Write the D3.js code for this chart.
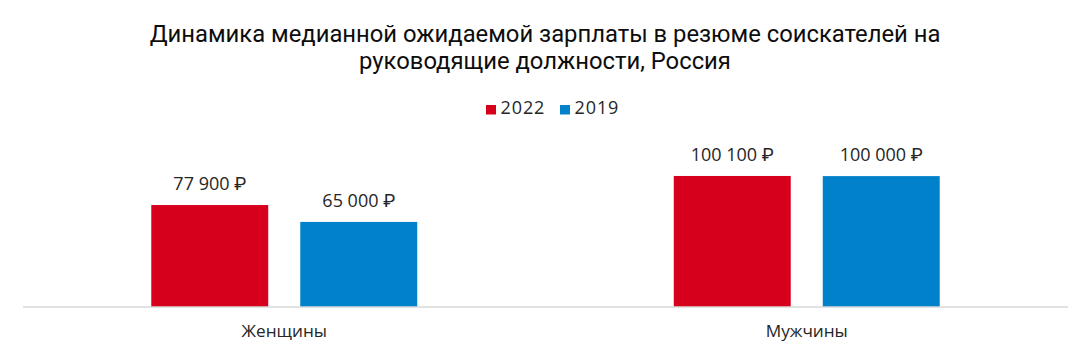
<!DOCTYPE html>
<html><head><meta charset="utf-8">
<script src="https://cdn.jsdelivr.net/npm/d3@7"></script>
<style>
html,body{margin:0;padding:0;background:#fff;}
svg{display:block;font-family:"Open Sans",Roboto,sans-serif;}
</style></head>
<body>
<svg id="chart" width="1091" height="356"></svg>
<script>
const titleLines = ["Динамика медианной ожидаемой зарплаты в резюме соискателей на", "руководящие должности, Россия"];
const categories = ["Женщины", "Мужчины"];
const seriesNames = ["2022", "2019"];
const values2022 = [77900, 100100];
const values2019 = [65000, 100000];
const colors = ["#d6001c", "#0081c9"];

const svg = d3.select("#chart");
const left = 23, right = 1068, baseline = 307;

const x0 = d3.scaleBand().domain(categories).range([left, right]).paddingInner(0.491).paddingOuter(0.2455);
const x1 = d3.scaleBand().domain(seriesNames).range([0, x0.bandwidth()]).paddingInner(0.215).paddingOuter(0);
const y = d3.scaleLinear().domain([0, 100000]).range([baseline, baseline - 130.9]);

const fmt = v => d3.format(",")(v).replace(/,/g, " ") + " \u20BD";

// title
svg.append("g").selectAll("text").data(titleLines).join("text")
  .attr("x", 545).attr("y", (d, i) => 41.5 + i * 27.5)
  .attr("text-anchor", "middle").attr("font-family", "Roboto, 'Open Sans', sans-serif")
  .attr("font-size", 23.8).attr("fill", "#0d0d0d")
  .text(d => d);

// legend
const leg = svg.append("g");
const legItems = [{n: seriesNames[0], c: colors[0], x: 486}, {n: seriesNames[1], c: colors[1], x: 560}];
legItems.forEach(it => {
  leg.append("rect").attr("x", it.x).attr("y", 105).attr("width", 10).attr("height", 9.5).attr("fill", it.c);
  leg.append("text").attr("x", it.x + 14.5).attr("y", 114.3).attr("font-size", 18)
    .attr("letter-spacing", 0.9).attr("fill", "#262626").text(it.n);
});

const rows = categories.map((c, i) => ({cat: c, vals: [values2022[i], values2019[i]]}));

const groups = svg.append("g").selectAll("g").data(rows).join("g")
  .attr("transform", d => `translate(${x0(d.cat)},0)`);

groups.selectAll("rect").data(d => d.vals.map((v, j) => ({s: seriesNames[j], v, c: colors[j]})))
  .join("rect")
  .attr("x", d => x1(d.s)).attr("width", x1.bandwidth())
  .attr("y", d => y(d.v)).attr("height", d => y(0) - y(d.v))
  .attr("fill", d => d.c);

groups.selectAll("text.val").data(d => d.vals.map((v, j) => ({s: seriesNames[j], v})))
  .join("text").attr("class", "val")
  .attr("x", d => x1(d.s) + x1.bandwidth() / 2).attr("y", d => y(d.v) - 15)
  .attr("text-anchor", "middle").attr("font-size", 18).attr("fill", "#262626")
  .text(d => fmt(d.v));

const axis = svg.append("g").attr("transform", `translate(0,${baseline})`)
  .call(d3.axisBottom(x0).tickSize(0).tickPadding(17.5));
axis.select(".domain").attr("stroke", "#d9d9d9").attr("stroke-width", 1.5)
  .attr("d", `M${left},0H${right}`);
axis.selectAll("text").attr("font-size", 17.2).attr("fill", "#262626").attr("font-family", "'Open Sans', Roboto, sans-serif");
</script>
</body></html>
